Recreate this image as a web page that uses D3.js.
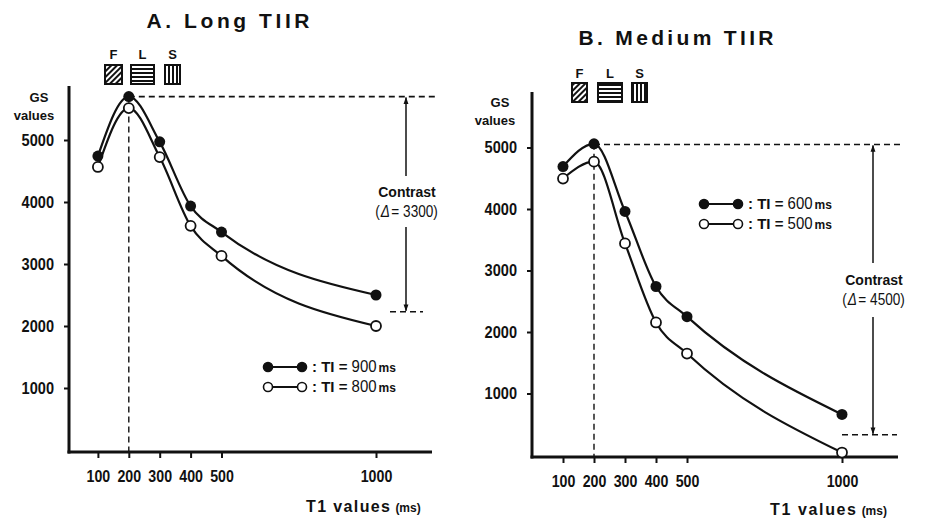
<!DOCTYPE html>
<html><head><meta charset="utf-8">
<script src="https://cdn.jsdelivr.net/npm/d3@7"></script>
<style>
body{margin:0;background:#fff;}
svg{display:block;}
text{font-family:"Liberation Sans",Arial,sans-serif;fill:#111;}
.num{font-family:"Liberation Sans",Arial,sans-serif;font-size:17px;font-weight:bold;}
.bold{font-weight:bold;}
</style></head><body>
<svg id="chart" width="943" height="520"></svg>
<script>
// ---------- data ----------
const t1Values = [100, 200, 300, 400, 500, 1000];
const xTickValues = [100, 200, 300, 400, 500, 1000];
const yTickValues = [1000, 2000, 3000, 4000, 5000];
const longTI900 = [4740, 5700, 4970, 3935, 3515, 2500];
const longTI800 = [4565, 5515, 4725, 3615, 3130, 2000];
const mediumTI600 = [4690, 5060, 3960, 2740, 2250, 660];
const mediumTI500 = [4495, 4770, 3440, 2155, 1650, 40];
const panelTitles = ["A.  Long  TIIR", "B.  Medium  TIIR"];
const legendLongLabels = ["TI = 900", "TI = 800"];
const legendMediumLabels = ["TI = 600", "TI = 500"];
const contrastLong = [5700, 2230];   // top, bottom reference levels
const contrastMedium = [5050, 330];
const contrastLabels = ["(\u0394 = 3300)", "(\u0394 = 4500)"];
const sequenceLabels = ["F", "L", "S"];
const peakT1 = 200;

const svg = d3.select("#chart");
const defs = svg.append("defs");

// hatch patterns
function hatch(id, draw) {
  const p = defs.append("pattern").attr("id", id).attr("patternUnits", "userSpaceOnUse")
    .attr("width", 4).attr("height", 4);
  p.append("rect").attr("width", 4).attr("height", 4).attr("fill", "#fff");
  draw(p);
}
hatch("patF", p => {
  p.attr("patternTransform", "rotate(45)");
  p.append("rect").attr("x", 0).attr("y", 0).attr("width", 2).attr("height", 4).attr("fill", "#111");
});
hatch("patL", p => {
  p.append("rect").attr("x", 0).attr("y", 0).attr("width", 4).attr("height", 2).attr("fill", "#111");
});
hatch("patS", p => {
  p.append("rect").attr("x", 0).attr("y", 0).attr("width", 2).attr("height", 4).attr("fill", "#111");
});
const patIds = ["patF", "patL", "patS"];

defs.append("marker").attr("id", "arrow").attr("viewBox", "0 0 10 10")
  .attr("refX", 9).attr("refY", 5).attr("markerWidth", 7).attr("markerHeight", 9)
  .attr("markerUnits", "userSpaceOnUse")
  .attr("orient", "auto-start-reverse")
  .append("path").attr("d", "M0,1.5 L10,5 L0,8.5 Z").attr("fill", "#111");

// condensed digits helper
function condense(sel, perChar) {
  sel.each(function () {
    const t = d3.select(this);
    const n = t.text().length;
    t.attr("textLength", n * perChar).attr("lengthAdjust", "spacingAndGlyphs");
  });
}

const panels = [
  {
    title: panelTitles[0], titleX: 228, titleY: 28, titleW: 163,
    x0: 67, x1000: 376, xEnd: 432, yAxisX: 69,
    y0: 450, yPer1000: 62, yTop: 86, xAxisY: 452,
    filled: longTI900, open: longTI800, legend: legendLongLabels,
    legX: 268, legY: 367, legGap: 20,
    contrast: contrastLong, contrastLabel: contrastLabels[0],
    arrowX: 406, dashEnd: 437, lowDash: [390, 423],
    cTextY: 197, gapTop: 176, gapBot: 227,
    gsX: 34, gsY: 102,
    seqY: 59, boxY: 65, boxes: [[105, 17], [131, 23], [165, 15]],
    xTitleX: 306, xTitleY: 512, xTitleW: 84
  },
  {
    title: panelTitles[1], titleX: 676, titleY: 45, titleW: 195,
    x0: 532, x1000: 842, xEnd: 898, yAxisX: 532,
    y0: 455, yPer1000: 61.5, yTop: 92, xAxisY: 457,
    filled: mediumTI600, open: mediumTI500, legend: legendMediumLabels,
    legX: 704, legY: 204, legGap: 20,
    contrast: contrastMedium, contrastLabel: contrastLabels[1],
    arrowX: 873, dashEnd: 900, lowDash: [842, 897],
    cTextY: 285, gapTop: 263, gapBot: 317,
    gsX: 495, gsY: 107,
    seqY: 78, boxY: 83, boxes: [[572, 15], [598, 24], [632, 15]],
    xTitleX: 770, xTitleY: 515, xTitleW: 86
  }
];

panels.forEach(cfg => {
  const g = svg.append("g");
  const x = d3.scaleLinear().domain([0, 1000]).range([cfg.x0, cfg.x1000]);
  const yMax = (cfg.y0 - cfg.yTop) / cfg.yPer1000 * 1000;
  const y = d3.scaleLinear().domain([0, yMax]).range([cfg.y0, cfg.yTop]);

  // title
  g.append("text").attr("class", "bold").attr("x", cfg.titleX - cfg.titleW / 2).attr("y", cfg.titleY)
    .attr("font-size", 21).attr("textLength", cfg.titleW).attr("lengthAdjust", "spacing")
    .text(cfg.title.replace(/  /g, " "));

  // sequence labels & boxes
  cfg.boxes.forEach((b, i) => {
    g.append("text").attr("class", "bold").attr("x", b[0] + b[1] / 2).attr("y", cfg.seqY)
      .attr("text-anchor", "middle").attr("font-size", 13).text(sequenceLabels[i]);
    g.append("rect").attr("x", b[0]).attr("y", cfg.boxY).attr("width", b[1]).attr("height", 19)
      .attr("fill", `url(#${patIds[i]})`).attr("stroke", "#111").attr("stroke-width", 2);
  });

  // GS values label
  g.append("text").attr("class", "bold").attr("x", cfg.gsX + 5).attr("y", cfg.gsY)
    .attr("text-anchor", "middle").attr("font-size", 13).text("GS");
  g.append("text").attr("class", "bold").attr("x", cfg.gsX).attr("y", cfg.gsY + 18)
    .attr("text-anchor", "middle").attr("font-size", 13).text("values");

  // y axis
  const yAxis = d3.axisLeft(y).tickValues(yTickValues).tickSize(5).tickPadding(10).tickSizeOuter(0)
    .tickFormat(d3.format("d"));
  const ya = g.append("g").attr("transform", `translate(${cfg.yAxisX},0)`).call(yAxis);
  ya.select(".domain").remove();
  ya.selectAll(".tick line").attr("stroke", "#111").attr("stroke-width", 2);
  ya.selectAll(".tick text").attr("class", "num").attr("fill", "#111").attr("font-size", null).attr("font-family", null)
    .call(condense, 8.1);
  g.append("line").attr("x1", cfg.yAxisX).attr("x2", cfg.yAxisX).attr("y1", cfg.yTop).attr("y2", cfg.xAxisY + 1.5)
    .attr("stroke", "#111").attr("stroke-width", 3);

  // x axis
  const xAxis = d3.axisBottom(x).tickValues(xTickValues).tickSize(6).tickPadding(12).tickSizeOuter(0)
    .tickFormat(d3.format("d"));
  const xa = g.append("g").attr("transform", `translate(0,${cfg.xAxisY})`).call(xAxis);
  xa.select(".domain").remove();
  xa.selectAll(".tick line").attr("stroke", "#111").attr("stroke-width", 2);
  xa.selectAll(".tick text").attr("class", "num").attr("fill", "#111").attr("font-size", null).attr("font-family", null)
    .call(condense, 7.9);
  g.append("line").attr("x1", cfg.yAxisX - 1.5).attr("x2", cfg.xEnd).attr("y1", cfg.xAxisY).attr("y2", cfg.xAxisY)
    .attr("stroke", "#111").attr("stroke-width", 3);

  // x axis title
  const xt = g.append("text").attr("class", "bold").attr("x", cfg.xTitleX).attr("y", cfg.xTitleY).attr("font-size", 16);
  xt.append("tspan").text("T1  values").attr("textLength", cfg.xTitleW).attr("lengthAdjust", "spacing");
  xt.append("tspan").attr("dx", 4).attr("font-size", 12).text("(ms)");

  // reference dashed lines
  const dash = "6,4";
  g.append("line").attr("x1", x(peakT1)).attr("x2", cfg.dashEnd)
    .attr("y1", y(cfg.contrast[0])).attr("y2", y(cfg.contrast[0]))
    .attr("stroke", "#111").attr("stroke-width", 1.6).attr("stroke-dasharray", dash);
  g.append("line").attr("x1", x(peakT1)).attr("x2", x(peakT1))
    .attr("y1", y(cfg.filled[t1Values.indexOf(peakT1)])).attr("y2", cfg.xAxisY)
    .attr("stroke", "#111").attr("stroke-width", 1.4).attr("stroke-dasharray", dash);
  g.append("line").attr("x1", cfg.lowDash[0]).attr("x2", cfg.lowDash[1])
    .attr("y1", y(cfg.contrast[1])).attr("y2", y(cfg.contrast[1]))
    .attr("stroke", "#111").attr("stroke-width", 1.6).attr("stroke-dasharray", dash);

  // contrast arrow
  g.append("line").attr("x1", cfg.arrowX).attr("x2", cfg.arrowX)
    .attr("y1", y(cfg.contrast[0]) + 1).attr("y2", cfg.gapTop)
    .attr("stroke", "#111").attr("stroke-width", 1.5).attr("marker-start", "url(#arrow)");
  g.append("line").attr("x1", cfg.arrowX).attr("x2", cfg.arrowX)
    .attr("y1", cfg.gapBot).attr("y2", y(cfg.contrast[1]) - 1)
    .attr("stroke", "#111").attr("stroke-width", 1.5).attr("marker-end", "url(#arrow)");
  g.append("text").attr("class", "bold").attr("x", cfg.arrowX + 1).attr("y", cfg.cTextY)
    .attr("text-anchor", "middle").attr("font-size", 14).text("Contrast");

  // contrast value label: pieces laid out side by side, then centred and condensed
  const parts = cfg.contrastLabel.match(/^\((\S) = (\d+)\)$/);
  const cg = g.append("g");
  const pieces = [["(", false], [parts[1], true], ["= " + parts[2] + ")", false]];
  let cx = 0;
  pieces.forEach(([s, it], k) => {
    const t = cg.append("text").attr("x", cx).attr("y", 0).attr("font-size", 17)
      .attr("font-style", it ? "italic" : null).text(s);
    cx += t.node().getComputedTextLength() + (k === 1 ? 2 : 1);
  });
  const sx = 0.8;
  cg.attr("transform", `translate(${cfg.arrowX + 1 - cx * sx / 2},${cfg.cTextY + 20}) scale(${sx},1)`);

  // curves
  const line = d3.line().x((d, i) => x(t1Values[i])).y(d => y(d)).curve(d3.curveMonotoneX);
  [cfg.filled, cfg.open].forEach(series => {
    g.append("path").attr("d", line(series)).attr("fill", "none").attr("stroke", "#111").attr("stroke-width", 2.2);
  });
  g.selectAll(null).data(cfg.filled).enter().append("circle")
    .attr("cx", (d, i) => x(t1Values[i])).attr("cy", d => y(d)).attr("r", 5.5).attr("fill", "#111");
  g.selectAll(null).data(cfg.open).enter().append("circle")
    .attr("cx", (d, i) => x(t1Values[i])).attr("cy", d => y(d)).attr("r", 5)
    .attr("fill", "#fff").attr("stroke", "#111").attr("stroke-width", 1.8);

  // legend
  cfg.legend.forEach((lab, i) => {
    const ly = cfg.legY + i * cfg.legGap;
    g.append("line").attr("x1", cfg.legX).attr("x2", cfg.legX + 34).attr("y1", ly).attr("y2", ly)
      .attr("stroke", "#111").attr("stroke-width", 1.8);
    [cfg.legX, cfg.legX + 34].forEach(cx => {
      g.append("circle").attr("cx", cx).attr("cy", ly).attr("r", 4.5)
        .attr("fill", i === 0 ? "#111" : "#fff").attr("stroke", "#111").attr("stroke-width", 1.6);
    });
    const lt = g.append("text").attr("x", cfg.legX + 44).attr("y", ly + 5).attr("font-size", 15);
    lt.append("tspan").attr("class", "bold").text(": ");
    const m = lab.match(/^(\S+) = (\d+)$/);
    lt.append("tspan").attr("class", "bold").text(m[1] + " = ");
    lt.append("tspan").attr("font-size", 17).attr("textLength", 25).attr("lengthAdjust", "spacingAndGlyphs").text(m[2]);
    lt.append("tspan").attr("class", "bold").attr("font-size", 12).attr("dx", 2).text("ms");
  });
});
</script>
</body></html>
